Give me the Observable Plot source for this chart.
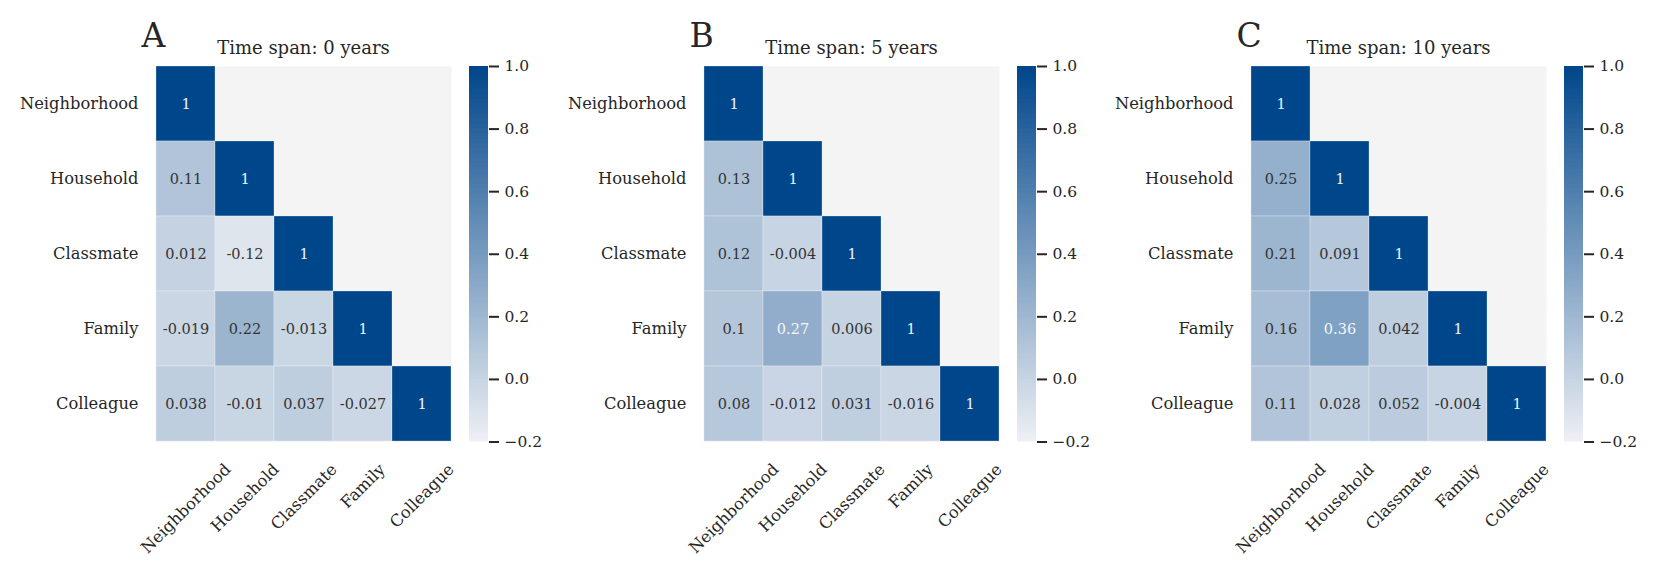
<!DOCTYPE html>
<html>
<head>
<meta charset="utf-8">
<script src="https://cdn.jsdelivr.net/npm/d3@7"></script>
<script src="https://cdn.jsdelivr.net/npm/@observablehq/plot@0.6"></script>
<style>
  body { margin: 0; background: #fff; }
  #root { position: relative; width: 1661px; height: 575px; background: #fff; overflow: hidden; }
  #root > svg { position: absolute; top: 0; }
</style>
</head>
<body>
<div id="root"></div>
<script>
// ---- data ----
const categories = ["Neighborhood", "Household", "Classmate", "Family", "Colleague"];
const panelLetters = ["A", "B", "C"];
const panelTitles = ["Time span: 0 years", "Time span: 5 years", "Time span: 10 years"];
// lower-triangle correlation values, row by row
const valuesA = [
  [1],
  [0.11, 1],
  [0.012, -0.12, 1],
  [-0.019, 0.22, -0.013, 1],
  [0.038, -0.01, 0.037, -0.027, 1]
];
const valuesB = [
  [1],
  [0.13, 1],
  [0.12, -0.004, 1],
  [0.1, 0.27, 0.006, 1],
  [0.08, -0.012, 0.031, -0.016, 1]
];
const valuesC = [
  [1],
  [0.25, 1],
  [0.21, 0.091, 1],
  [0.16, 0.36, 0.042, 1],
  [0.11, 0.028, 0.052, -0.004, 1]
];
const colorbarTicks = [-0.2, 0.0, 0.2, 0.4, 0.6, 0.8, 1.0];
const colorDomain = [-0.2, 1.0];
const colorRange = ["#eef0f4", "#00468b"];

// ---- layout ----
const FONT = "DejaVu Serif";
const panelOffsets = [0, 547.5, 1095];
const H = 575, MT = 66, MB = 133.5, ML = 155, PW = 296, MR = 12;
const LABEL_FS = 16.3;
const root = document.getElementById("root");

const ctx = document.createElement("canvas").getContext("2d");
ctx.font = `${LABEL_FS}px "${FONT}"`;
const textW = s => ctx.measureText(s).width;

const colorOpts = {type: "linear", domain: colorDomain, range: colorRange, interpolate: "rgb"};

[valuesA, valuesB, valuesC].forEach((vals, p) => {
  const data = [];
  vals.forEach((row, i) => row.forEach((v, j) => data.push({row: categories[i], col: categories[j], value: v})));

  const xLabelMarks = categories.map(c => Plot.text([c], {
    x: d => d, frameAnchor: "bottom", dy: 19 + (textW(c) + LABEL_FS) * 0.3536,
    rotate: -45, textAnchor: "middle", lineAnchor: "middle", fontSize: LABEL_FS, fill: "#262626"
  }));

  const heat = Plot.plot({
    width: ML + PW + MR, height: H,
    marginLeft: ML, marginRight: MR, marginTop: MT, marginBottom: MB,
    style: {fontFamily: FONT, fontSize: LABEL_FS + "px", color: "#262626", background: "transparent"},
    x: {domain: categories, padding: 0, axis: null},
    y: {domain: categories, padding: 0, axis: null},
    color: colorOpts,
    marks: [
      Plot.frame({fill: "#f4f4f4", stroke: null}),
      Plot.cell(data, {x: "col", y: "row", fill: "value", inset: 0, stroke: "#ffffff", strokeOpacity: 0.35, strokeWidth: 0.8}),
      Plot.text(data, {x: "col", y: "row", text: d => String(d.value), fontSize: 14.5,
        fill: d => d.value > 0.25 ? "#f4f6fa" : "#333333"}),
      Plot.axisY({tickSize: 0, tickPadding: 17, fontSize: LABEL_FS, fill: "#262626", label: null}),
      ...xLabelMarks,
      Plot.text([panelTitles[p]], {frameAnchor: "top", dy: -13, lineAnchor: "bottom", fontSize: 18, fill: "#262626"}),
      Plot.text([panelLetters[p]], {frameAnchor: "top-left", dx: -14, dy: -19.4, textAnchor: "start", lineAnchor: "bottom", fontSize: 33, fill: "#262626"})
    ]
  });
  heat.style.left = panelOffsets[p] + "px";
  root.appendChild(heat);

  const step = 0.004;
  const grad = d3.range(colorDomain[0], colorDomain[1] - 1e-9, step);
  const bar = Plot.plot({
    width: 90, height: H,
    marginLeft: 0, marginRight: 71, marginTop: MT, marginBottom: MB,
    style: {fontFamily: FONT, fontSize: "15.5px", color: "#262626", background: "transparent"},
    x: {domain: [0, 1], axis: null},
    y: {domain: colorDomain, axis: null},
    color: colorOpts,
    marks: [
      Plot.rect(grad, {x1: 0, x2: 1, y1: d => d, y2: d => Math.min(d + step * 1.6, colorDomain[1]), fill: d => d + step / 2}),
      Plot.axisY({anchor: "right", ticks: colorbarTicks, tickFormat: d3.format(".1f"), tickSize: 10, tickPadding: 6,
        stroke: "#262626", strokeWidth: 2, fontSize: 15.5, fill: "#262626", label: null})
    ]
  });
  bar.style.left = (panelOffsets[p] + 469) + "px";
  root.appendChild(bar);
});
</script>
</body>
</html>
